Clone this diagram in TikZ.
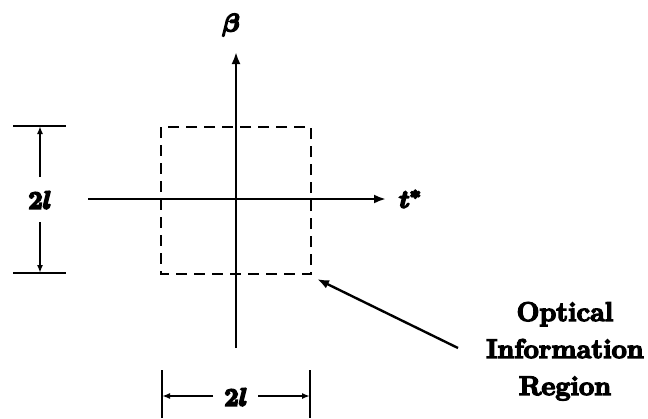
\documentclass[tikz,border=0pt]{standalone}
\usepackage{graphicx}
\usetikzlibrary{arrows.meta}
\newcommand{\heavy}[2][0.7]{\special{pdf:literal direct 2 Tr #1 w}#2\special{pdf:literal direct 0 Tr}}
\newcommand{\bigmath}[1]{\scalebox{2.5}{\heavy{\boldmath$#1$}}}
\begin{document}
\begin{tikzpicture}[x=1pt,y=-1pt,
  axis/.style={line width=2.4pt,-{Latex[length=12pt,width=9pt]}},
  dimline/.style={line width=1.8pt,-{Latex[length=8pt,width=6pt]}},
  tickline/.style={line width=2.2pt},
  region/.style={line width=2.2pt,dash pattern=on 11pt off 7pt},
  pointer/.style={line width=2.4pt,-{Latex[length=12pt,width=9pt]}},
  mathlbl/.style={inner sep=0pt},
  txt/.style={anchor=base,inner sep=0pt,font=\fontsize{27}{32}\selectfont\bfseries}]
\useasboundingbox (0,0) rectangle (648,418);
% axes
\coordinate (vbot) at (236,348);
\coordinate (vtop) at (236,52);
\coordinate (hleft) at (88,199);
\coordinate (hright) at (386,199);
\draw[axis] (vbot) -- (vtop);
\draw[axis] (hleft) -- (hright);
\node[mathlbl] (beta) at (231,25) {\bigmath{\beta}};
\node[mathlbl,anchor=west] (tlab) at (399,199) {\bigmath{t^{*}}};
% dashed region
\coordinate (r1) at (161,127);
\coordinate (r2) at (311,274);
\draw[region] (r1) rectangle (r2);
% left dimension
\coordinate (lt1) at (13,126);
\coordinate (lt2) at (66,126);
\coordinate (lb1) at (13,273);
\coordinate (lb2) at (66,273);
\draw[tickline] (lt1) -- (lt2);
\draw[tickline] (lb1) -- (lb2);
\node[mathlbl] (ldim) at (40,200) {\bigmath{2l}};
\coordinate (lup) at (40,177);
\coordinate (lupend) at (40,126);
\coordinate (ldn) at (40,222);
\coordinate (ldnend) at (40,273);
\draw[dimline] (lup) -- (lupend);
\draw[dimline] (ldn) -- (ldnend);
% bottom dimension
\coordinate (bl1) at (162,370);
\coordinate (bl2) at (162,418);
\coordinate (br1) at (310,370);
\coordinate (br2) at (310,418);
\draw[tickline] (bl1) -- (bl2);
\draw[tickline] (br1) -- (br2);
\node[mathlbl] (bdim) at (236,397) {\bigmath{2l}};
\coordinate (bls) at (213,396);
\coordinate (ble) at (162,396);
\coordinate (brs) at (258,396);
\coordinate (bre) at (310,396);
\draw[dimline] (bls) -- (ble);
\draw[dimline] (brs) -- (bre);
% text
\node[txt] (t1) at (565,321) {\heavy[1.4]{Optical}};
\node[txt] (t2) at (565,358) {\heavy[1.4]{Information}};
\node[txt] (t3) at (565,395) {\heavy[1.4]{Region}};
\coordinate (ptail) at (458,348);
\coordinate (ptip) at (317,279);
\draw[pointer] (ptail) -- (ptip);
\end{tikzpicture}
\end{document}
